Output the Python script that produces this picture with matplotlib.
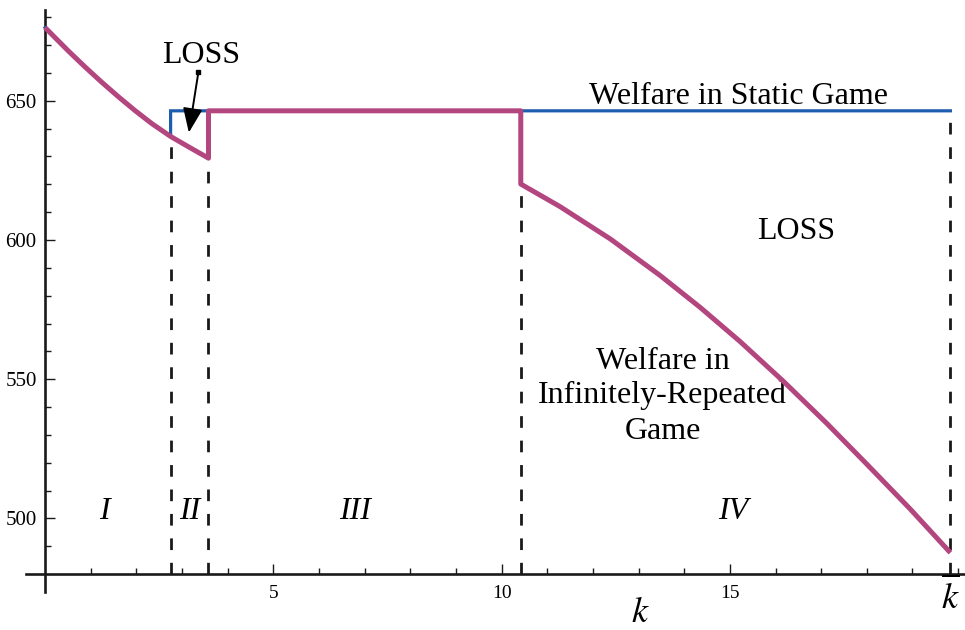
"""
Welfare in static vs infinitely-repeated game, regions I-IV (Mathematica-style figure).
"""

import numpy as np
import matplotlib
matplotlib.use("Agg")
import matplotlib.pyplot as plt

PURPLE = "#B3467F"
BLUE = "#1E5CAE"

# thresholds on k
K1, K2, K3, KBAR = 2.75, 3.58, 10.42, 19.83
W_STATIC = 646.4

# repeated-game welfare
k_reg1 = [0.0, 0.51, 0.88, 1.24, 1.61, 1.97, 2.34, 2.75]
w_reg1 = [676.3, 667.9, 662.1, 656.7, 651.4, 646.5, 641.8, 637.2]
k_reg2 = [2.75, 3.15, 3.58]
w_reg2 = [637.2, 633.4, 629.4]
k_reg4 = [10.42, 11.28, 12.38, 13.47, 14.35, 15.22, 16.17, 17.12, 18.0, 18.95, 19.83]
w_reg4 = [620.1, 612.0, 600.4, 587.3, 575.8, 563.6, 549.3, 534.2, 519.5, 503.4, 487.7]

region_labels = ["I", "II", "III", "IV"]
region_x = [1.31, 3.18, 6.79, 15.07]

plt.rcParams["font.family"] = ["Liberation Serif", "DejaVu Serif"]
plt.rcParams["mathtext.fontset"] = "stix"

fig = plt.figure(figsize=(9.65, 6.3), dpi=100)
ax = fig.add_axes([0.027, 0.0603, 0.973, 0.9238])
ax.set_xlim(-0.416, 20.15)
ax.set_ylim(473.6, 682.6)

# static-game welfare (follows the repeated curve in region I)
blue_k = k_reg1 + [K1, KBAR]
blue_w = w_reg1 + [W_STATIC, W_STATIC]
ax.plot(blue_k, blue_w, color=BLUE, lw=2.3, solid_joinstyle="miter", zorder=3)

# repeated-game welfare
purple_k = k_reg1 + k_reg2 + [K2, K3] + k_reg4
purple_w = w_reg1 + w_reg2 + [W_STATIC, W_STATIC] + w_reg4
ax.plot(purple_k, purple_w, color=PURPLE, lw=3.6, solid_joinstyle="round",
        solid_capstyle="butt", zorder=4)

# dashed region boundaries
tops = [w_reg2[0], w_reg2[-1], w_reg4[0], W_STATIC]
for kk, top in zip([K1, K2, K3, KBAR], tops):
    ax.plot([kk, kk], [480, top], color="#1a1a1a", lw=2.0,
            dashes=(4.2, 4.6), zorder=2)

# axes through the origin, Mathematica style
for s in ("top", "right"):
    ax.spines[s].set_visible(False)
ax.spines["left"].set_position(("data", 0))
ax.spines["bottom"].set_position(("data", 480))
for s in ("left", "bottom"):
    ax.spines[s].set_linewidth(1.9)
    ax.spines[s].set_color("#1a1a1a")

ax.set_xticks([5, 10, 15])
ax.set_xticks(np.arange(1, 21), minor=True)
ax.set_yticks([500, 550, 600, 650])
ax.set_yticks(np.arange(490, 681, 10), minor=True)
ax.tick_params(which="both", direction="in", color="#1a1a1a", width=1.0)
ax.tick_params(which="major", length=7)
ax.tick_params(which="minor", length=4)
ax.tick_params(axis="x", which="major", labelsize=14, pad=8)
ax.tick_params(axis="y", which="major", labelsize=15, pad=6)
ax.patch.set_visible(False)

# annotations
FS = 23
ax.text(3.42, 663.5, "LOSS", fontsize=FS, ha="center", va="baseline")
ax.annotate("", xy=(3.15, 638.6), xytext=(3.36, 660.4),
            arrowprops=dict(arrowstyle="-|>,head_length=1.5,head_width=0.6",
                            color="black", lw=1.4, shrinkA=0, shrinkB=0))
ax.plot([3.36], [660.4], marker="s", ms=3.5, color="black")

ax.text(15.18, 648.8, "Welfare in Static Game", fontsize=FS,
        ha="center", va="baseline")
ax.text(16.45, 600.4, "LOSS", fontsize=FS, ha="center", va="baseline")
for line, yb in zip(["Welfare in", "Infinitely-Repeated", "Game"],
                    [553.8, 541.3, 528.4]):
    ax.text(13.53, yb, line, fontsize=FS, ha="center", va="baseline")

for lab, xx in zip(region_labels, region_x):
    ax.text(xx, 499.8, lab, fontsize=FS, style="italic",
            ha="center", va="baseline")

ax.text(13.03, 463.0, "$k$", fontsize=26, ha="center", va="baseline",
        clip_on=False)
ax.text(KBAR, 467.5, r"$\overline{k}$", fontsize=26, ha="center",
        va="baseline", clip_on=False)

fig.savefig("out.png", dpi=100)
